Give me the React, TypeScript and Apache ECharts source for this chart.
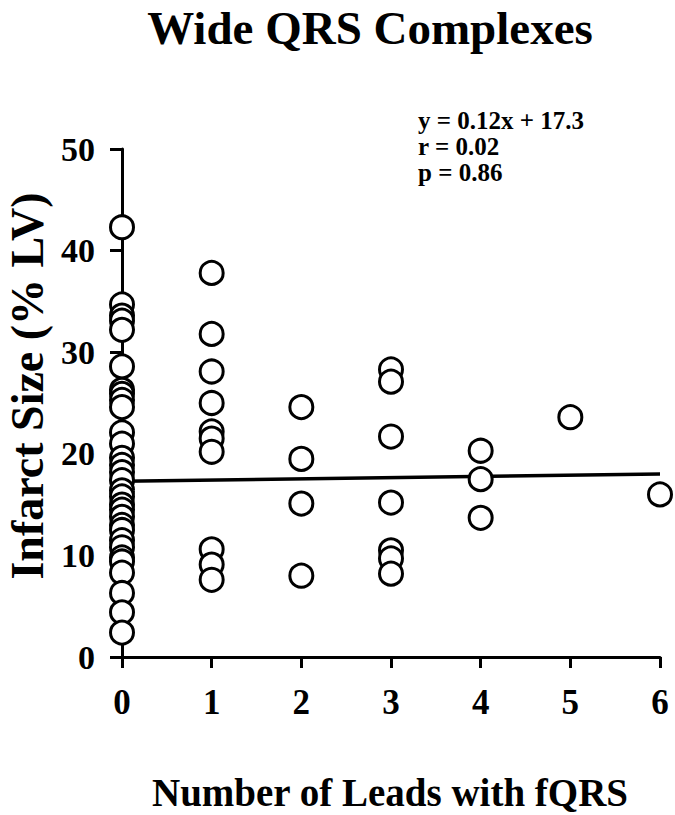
import React, { useEffect, useRef } from "react";
import * as echarts from "echarts";

const TITLE = "Wide QRS Complexes";
const X_NAME = "Number of Leads with fQRS";
const Y_NAME = "Infarct Size (% LV)";
const STATS = ["y = 0.12x + 17.3", "r = 0.02", "p = 0.86"];

const leads0 = [42.3, 34.7, 33.6, 33.1, 32.2, 28.6, 26.3, 25.9, 25.3, 24.6, 22.1, 21.0, 19.6, 18.9, 18.2, 17.4, 16.4, 15.8, 15.0, 14.5, 13.8, 13.0, 12.5, 11.5, 10.8, 9.8, 9.4, 8.3, 6.3, 4.4, 2.4];
const leads1 = [37.8, 31.8, 28.1, 25.0, 22.2, 21.5, 20.2, 10.6, 9.1, 7.6];
const leads2 = [24.6, 19.5, 15.1, 8.0];
const leads3 = [28.3, 27.1, 21.7, 15.2, 10.5, 9.7, 8.2];
const leads4 = [20.3, 17.5, 13.7];
const leads5 = [23.6];
const leads6 = [16.0];

const regX = [0, 6];
const regY = [17.3, 18.02];

const FONT = "'Liberation Serif', 'Times New Roman', serif";

export default function App() {
  const ref = useRef<HTMLDivElement>(null);
  useEffect(() => {
    if (!ref.current) return;
    const chart = echarts.init(ref.current, null, { renderer: "svg" });
    const groups = [leads0, leads1, leads2, leads3, leads4, leads5, leads6];
    const points: number[][] = [];
    groups.forEach((g, i) => g.forEach((v) => points.push([i, v])));
    chart.setOption({
      animation: false,
      backgroundColor: "#ffffff",
      grid: { left: 122, right: 15, top: 149, bottom: 158 },
      xAxis: {
        type: "value",
        min: 0,
        max: 6,
        interval: 1,
        splitLine: { show: false },
        axisLine: { show: true, lineStyle: { color: "#000", width: 3 } },
        axisTick: { show: true, length: 11, lineStyle: { color: "#000", width: 3 } },
        axisLabel: { color: "#000", fontFamily: FONT, fontWeight: "bold", fontSize: 35, margin: 28 },
      },
      yAxis: {
        type: "value",
        min: 0,
        max: 50,
        interval: 10,
        splitLine: { show: false },
        axisLine: { show: true, lineStyle: { color: "#000", width: 3 } },
        axisTick: { show: true, length: 12, lineStyle: { color: "#000", width: 3 } },
        axisLabel: { color: "#000", fontFamily: FONT, fontWeight: "bold", fontSize: 34, margin: 27 },
      },
      series: [
        {
          type: "line",
          data: regX.map((x, i) => [x, regY[i]]),
          showSymbol: false,
          symbol: "none",
          lineStyle: { color: "#000", width: 3.5 },
          z: 1,
        },
        {
          type: "scatter",
          data: points,
          symbol: "circle",
          symbolSize: 23,
          clip: false,
          itemStyle: { color: "#ffffff", borderColor: "#000", borderWidth: 3, opacity: 1 },
          z: 3,
        },
      ],
      graphic: [
        {
          type: "text",
          x: 370,
          y: 28,
          style: { text: TITLE, fill: "#000", font: `bold 47px ${FONT}`, align: "center", verticalAlign: "middle" },
        },
        {
          type: "text",
          x: 390,
          y: 792,
          style: { text: X_NAME, fill: "#000", font: `bold 39px ${FONT}`, align: "center", verticalAlign: "middle" },
        },
        {
          type: "text",
          x: 27,
          y: 386,
          rotation: Math.PI / 2,
          style: { text: Y_NAME, fill: "#000", font: `bold 46px ${FONT}`, align: "center", verticalAlign: "middle" },
        },
        ...STATS.map((s, i) => ({
          type: "text",
          x: 418,
          y: 120 + i * 26,
          style: { text: s, fill: "#000", font: `bold 25px ${FONT}`, align: "left", verticalAlign: "middle" },
        })),
      ],
    });
    return () => chart.dispose();
  }, []);
  return <div ref={ref} style={{ width: 675, height: 815, position: "absolute", left: 0, top: 0 }} />;
}
